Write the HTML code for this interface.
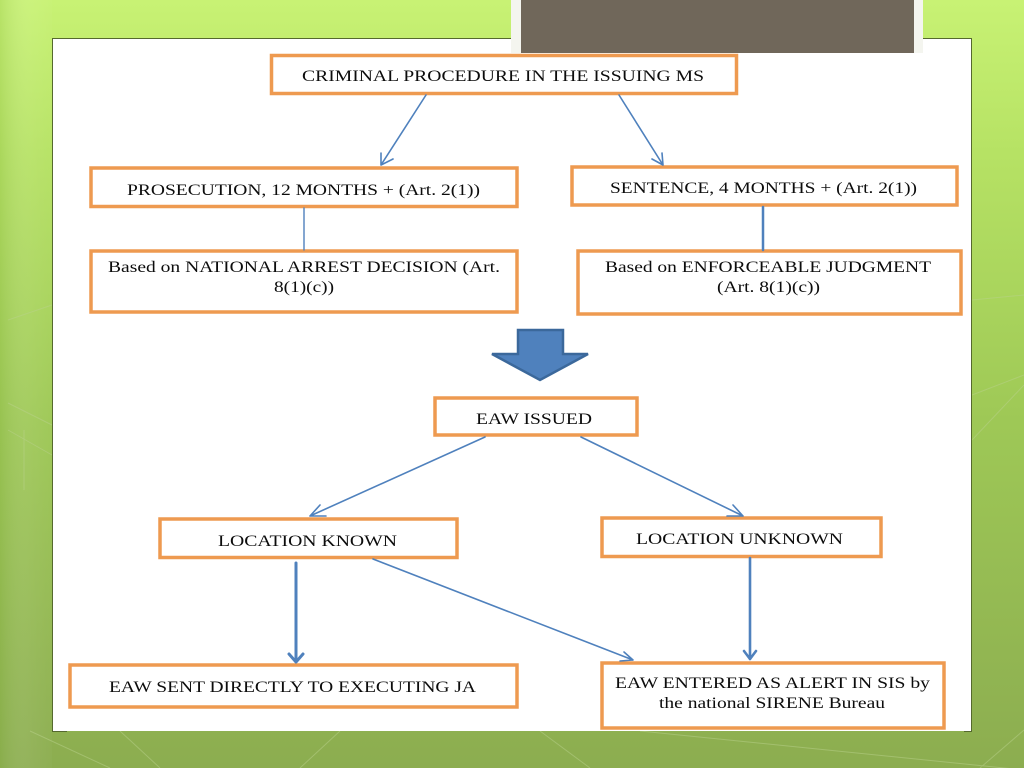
<!DOCTYPE html>
<html>
<head>
<meta charset="utf-8">
<style>
html,body{margin:0;padding:0;width:1024px;height:768px;overflow:hidden;background:#a5cc5c}
svg{display:block}
text{font-family:"Liberation Serif",serif;fill:#0c0c0c;font-size:16px}
</style>
</head>
<body>
<svg width="1024" height="768" viewBox="0 0 1024 768" xmlns="http://www.w3.org/2000/svg">
<defs>
<linearGradient id="bg" x1="0" y1="0" x2="0" y2="1">
<stop offset="0" stop-color="#c8f274"/>
<stop offset="0.2" stop-color="#b6e264"/>
<stop offset="0.55" stop-color="#9ec856"/>
<stop offset="1" stop-color="#8cad50"/>
</linearGradient>
<linearGradient id="side" x1="0" y1="0" x2="1" y2="0">
<stop offset="0" stop-color="#7fae3c" stop-opacity=".22"/>
<stop offset="0.6" stop-color="#ffffff" stop-opacity=".06"/>
<stop offset="1" stop-color="#ffffff" stop-opacity=".02"/>
</linearGradient>
</defs>
<rect width="1024" height="768" fill="url(#bg)"/>
<rect x="0" y="0" width="52" height="768" fill="url(#side)"/>
<g stroke="#b9d28c" stroke-width="1" fill="none" opacity=".5">
<path d="M8 320L52 305M8 403L52 425M8 430L52 455M24 430V490M972 300L1024 295M972 395L1024 375M972 440L1024 385"/>
<path d="M30 731L110 768M340 731L300 768M540 731L590 768M640 731L1024 770M980 768L1024 730M160 768L120 731"/>
</g>

<!-- white panel -->
<rect x="52" y="38" width="920" height="693" fill="#fff"/>
<path d="M67 731.500H52.500V38.500H971.500V731.500H964" fill="none" stroke="#55692e" stroke-width="1"/>

<!-- top frame -->
<rect x="511" y="0" width="412" height="53" fill="#f4f5ef"/>
<rect x="521" y="0" width="393" height="53" fill="#70675a"/>

<!-- boxes -->
<g fill="#fff" stroke="#ee9a50" stroke-width="3.500">
<rect x="271.500" y="55.500" width="465" height="38"/>
<rect x="91" y="168" width="426" height="38.500"/>
<rect x="572" y="167" width="385" height="38"/>
<rect x="91" y="251" width="426" height="61"/>
<rect x="578" y="251" width="383" height="63"/>
<rect x="435" y="398" width="202" height="37"/>
<rect x="160" y="519" width="297" height="38.500"/>
<rect x="602" y="518" width="279" height="38.500"/>
<rect x="70" y="665" width="447" height="42"/>
<rect x="602" y="663" width="342" height="65"/>
</g>

<!-- connectors -->
<g stroke="#4f81bd" fill="none" stroke-linecap="round" stroke-linejoin="round">
<g stroke-width="1.600">
<path d="M426 95L381 165M381 153L381 165L393 159"/>
<path d="M619 95L663 165M652 159L663 165L662 153"/>
<path d="M485 437L310 516M320 505L310 516L326 516"/>
<path d="M581 437L743 516M727 516L743 516L733 505"/>
<path d="M373 559L633 660M620 661L633 660L624 652"/>
</g>
<path d="M304 208V250" stroke-width="1.400"/>
<path d="M763 207V250" stroke-width="2.500"/>
<path d="M296 563V662M289 654L296 662L303 654" stroke-width="3"/>
<path d="M750 558V659M744 651L750 659L756 651" stroke-width="2.600"/>
</g>

<!-- block arrow -->
<polygon points="518,330 563,330 563,354 588,354 540,380 492,354 518,354" fill="#4f81bd" stroke="#3b689b" stroke-width="2.500" stroke-linejoin="miter"/>

<!-- labels -->
<text x="302" y="81" textLength="402" lengthAdjust="spacingAndGlyphs">CRIMINAL PROCEDURE IN THE ISSUING MS</text>
<text x="127" y="195" textLength="353" lengthAdjust="spacingAndGlyphs">PROSECUTION, 12 MONTHS + (Art. 2(1))</text>
<text x="610" y="193" textLength="307" lengthAdjust="spacingAndGlyphs">SENTENCE, 4 MONTHS + (Art. 2(1))</text>
<text x="108" y="272" textLength="392" lengthAdjust="spacingAndGlyphs">Based on NATIONAL ARREST DECISION (Art.</text>
<text x="274" y="292" textLength="60" lengthAdjust="spacingAndGlyphs">8(1)(c))</text>
<text x="605" y="272" textLength="326" lengthAdjust="spacingAndGlyphs">Based on ENFORCEABLE JUDGMENT</text>
<text x="717" y="292" textLength="103" lengthAdjust="spacingAndGlyphs">(Art. 8(1)(c))</text>
<text x="476" y="424" textLength="116" lengthAdjust="spacingAndGlyphs">EAW ISSUED</text>
<text x="218" y="546" textLength="179" lengthAdjust="spacingAndGlyphs">LOCATION KNOWN</text>
<text x="636" y="544" textLength="207" lengthAdjust="spacingAndGlyphs">LOCATION UNKNOWN</text>
<text x="109" y="692" textLength="367" lengthAdjust="spacingAndGlyphs">EAW SENT DIRECTLY TO EXECUTING JA</text>
<text x="615" y="688" textLength="315" lengthAdjust="spacingAndGlyphs">EAW ENTERED AS ALERT IN SIS by</text>
<text x="659" y="708" textLength="226" lengthAdjust="spacingAndGlyphs">the national SIRENE Bureau</text>
</svg>
</body>
</html>
